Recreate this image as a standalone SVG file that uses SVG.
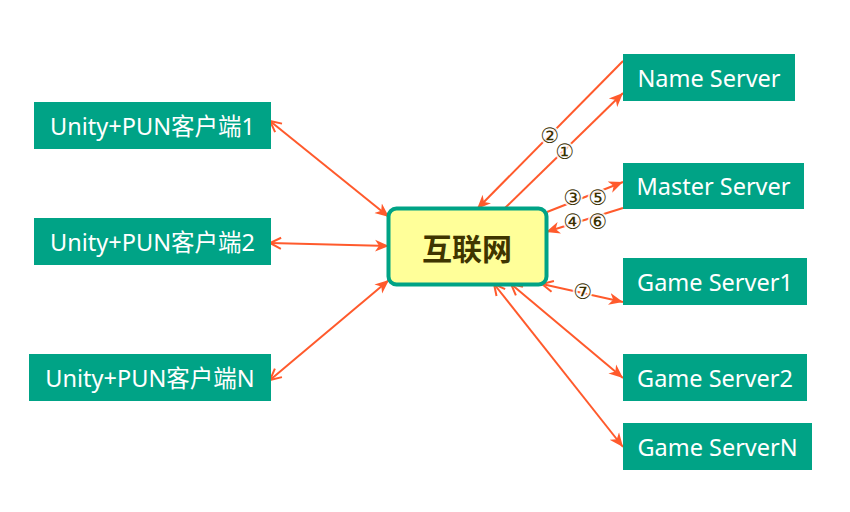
<svg xmlns="http://www.w3.org/2000/svg" width="850" height="512" viewBox="0 0 850 512">
<style>
.box{fill:#00A386}
.lbl{fill:#FFFFFF;font-family:"Noto Sans","Noto Sans CJK SC",sans-serif;font-size:23.5px;text-anchor:middle;dominant-baseline:central}
.ln{stroke:#FF5A2C;stroke-width:2;fill:none}
.num{fill:#3A3000;font-family:"DejaVu Sans",sans-serif;font-size:21px;font-style:oblique;text-anchor:middle;dominant-baseline:central;stroke:#FFFFFF;stroke-width:4;paint-order:stroke;stroke-opacity:0.85}
</style>
<defs>
<marker id="fill" markerUnits="userSpaceOnUse" markerWidth="16" markerHeight="14" refX="14" refY="6" orient="auto-start-reverse" viewBox="0 0 16 12">
<path d="M0,0 L14,6 L0,12 L4,6 Z" fill="#FF5A2C"/>
</marker>
<marker id="open" markerUnits="userSpaceOnUse" markerWidth="16" markerHeight="14" refX="12" refY="6" orient="auto-start-reverse" viewBox="0 0 16 12">
<path d="M1,0.5 L12,6 L1,11.5" fill="none" stroke="#FF5A2C" stroke-width="2"/>
</marker>
</defs>
<g id="connectors">
<line class="ln" x1="270" y1="121" x2="389" y2="217" marker-start="url(#open)" marker-end="url(#fill)"/>
<line class="ln" x1="270" y1="243" x2="389" y2="246" marker-start="url(#open)" marker-end="url(#fill)"/>
<line class="ln" x1="270" y1="380" x2="389" y2="280" marker-start="url(#open)" marker-end="url(#fill)"/>
<line class="ln" x1="623" y1="61" x2="477" y2="209" marker-end="url(#fill)"/>
<line class="ln" x1="505" y1="208" x2="623" y2="93" marker-end="url(#fill)"/>
<line class="ln" x1="547" y1="212" x2="623" y2="182" marker-end="url(#fill)"/>
<line class="ln" x1="623" y1="208" x2="546" y2="232" marker-end="url(#fill)"/>
<line class="ln" x1="542" y1="284" x2="623" y2="302" marker-start="url(#open)" marker-end="url(#fill)"/>
<line class="ln" x1="511" y1="284" x2="623" y2="378" marker-start="url(#open)" marker-end="url(#fill)"/>
<line class="ln" x1="494" y1="284" x2="623" y2="447" marker-start="url(#open)" marker-end="url(#fill)"/>
<text class="num" x="550" y="136">②</text>
<text class="num" x="565" y="152">①</text>
<text class="num" x="573" y="198">③</text>
<text class="num" x="598" y="198">⑤</text>
<text class="num" x="573" y="222">④</text>
<text class="num" x="598" y="222">⑥</text>
<text class="num" x="583" y="292">⑦</text>
</g>
<g id="internet">
<rect x="388.5" y="208.5" width="158" height="76" rx="8" fill="#FFFF99" stroke="#00A386" stroke-width="4"/>
<text x="467" y="247" fill="#3F3500" font-family="Noto Sans CJK SC,sans-serif" font-size="30" font-weight="bold" text-anchor="middle" dominant-baseline="central">互联网</text>
</g>
<g id="client1"><rect class="box" x="34" y="102" width="237" height="47"/><text class="lbl" x="152.5" y="125.5">Unity+PUN客户端1</text></g>
<g id="client2"><rect class="box" x="34" y="218" width="237" height="47"/><text class="lbl" x="152.5" y="241.5">Unity+PUN客户端2</text></g>
<g id="clientN"><rect class="box" x="29" y="354" width="242" height="47"/><text class="lbl" x="150" y="377.5">Unity+PUN客户端N</text></g>
<g id="nameServer"><rect class="box" x="623" y="54" width="172" height="47"/><text class="lbl" x="709" y="77.5">Name Server</text></g>
<g id="masterServer"><rect class="box" x="623" y="163" width="181" height="46"/><text class="lbl" x="713.5" y="186">Master Server</text></g>
<g id="gameServer1"><rect class="box" x="623" y="258" width="184" height="47"/><text class="lbl" x="715" y="281.5">Game Server1</text></g>
<g id="gameServer2"><rect class="box" x="623" y="354" width="184" height="47"/><text class="lbl" x="715" y="377.5">Game Server2</text></g>
<g id="gameServerN"><rect class="box" x="623" y="423" width="189" height="47"/><text class="lbl" x="717.5" y="446.5">Game ServerN</text></g>
</svg>
